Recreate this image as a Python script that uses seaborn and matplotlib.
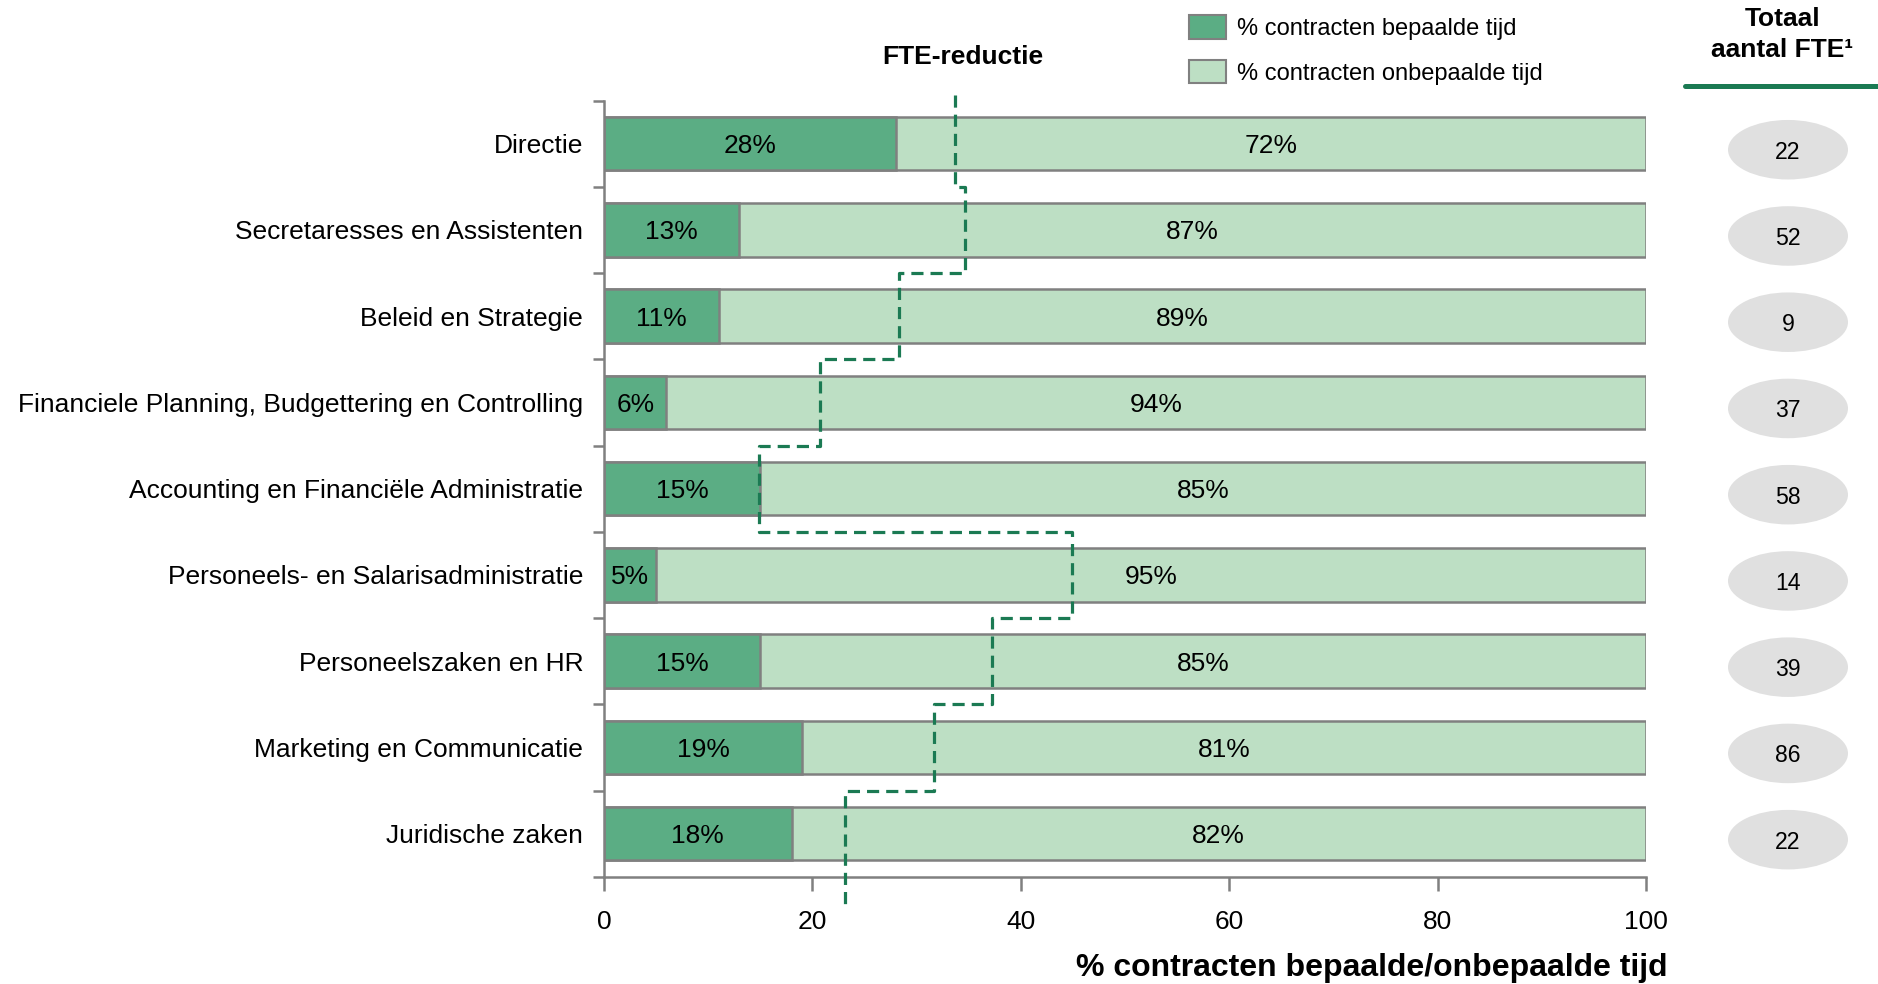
import numpy as np
import pandas as pd
import matplotlib
matplotlib.use("Agg")
import matplotlib.pyplot as plt
from matplotlib.patches import Ellipse, Patch
from matplotlib.lines import Line2D
import seaborn as sns

# === Data ===
categories = [
    "Directie",
    "Secretaresses en Assistenten",
    "Beleid en Strategie",
    "Financiele Planning, Budgettering en Controlling",
    "Accounting en Financiële Administratie",
    "Personeels- en Salarisadministratie",
    "Personeelszaken en HR",
    "Marketing en Communicatie",
    "Juridische zaken",
]
bepaalde = [28, 13, 11, 6, 15, 5, 15, 19, 18]
onbepaalde = [72, 87, 89, 94, 85, 95, 85, 81, 82]
fte_reductie = [33.7, 34.6, 28.3, 20.7, 14.9, 44.9, 37.2, 31.7, 23.1]
totaal_fte = [22, 52, 9, 37, 58, 14, 39, 86, 22]
x_ticks = [0, 20, 40, 60, 80, 100]

df = pd.DataFrame({"afdeling": categories, "bepaalde": bepaalde, "onbepaalde": onbepaalde})
df["totaal"] = df["bepaalde"] + df["onbepaalde"]

DARK = "#5BAD84"
LIGHT = "#BDDFC4"
EDGE = "#808080"
LINE = "#1B7A53"

sns.set_style("white")
plt.rcParams["font.family"] = ["Liberation Sans", "DejaVu Sans"]
plt.rcParams["text.color"] = "black"
plt.rcParams["xtick.labelcolor"] = "black"
plt.rcParams["ytick.labelcolor"] = "black"

fig = plt.figure(figsize=(18.78, 9.84), dpi=100)
ax = fig.add_axes([0.3216, 0.109, 0.5549, 0.7888])

# === Gestapelde balken ===
sns.barplot(data=df, x="totaal", y="afdeling", color=LIGHT, edgecolor=EDGE, linewidth=1.8,
            width=0.62, saturation=1, errorbar=None, ax=ax)
sns.barplot(data=df, x="bepaalde", y="afdeling", color=DARK, edgecolor=EDGE, linewidth=1.8,
            width=0.62, saturation=1, errorbar=None, ax=ax)

for i, (b, o) in enumerate(zip(bepaalde, onbepaalde)):
    ax.text(b / 2, i, f"{b}%", ha="center", va="center_baseline", fontsize=19)
    ax.text(b + o / 2, i, f"{o}%", ha="center", va="center_baseline", fontsize=19)

# === FTE-reductie trappenlijn ===
n = len(categories)
xs, ys = [], []
for i, v in enumerate(fte_reductie):
    top = i - 0.5 if i > 0 else -0.56
    bot = i + 0.5 if i < n - 1 else 8.85
    xs += [v, v]
    ys += [top, bot]
ax.plot(xs, ys, color=LINE, lw=2.3, ls=(0, (3.8, 2.2)), clip_on=False, zorder=5)
ax.text(fte_reductie[0] + 0.7, -1.01, "FTE-reductie", ha="center", va="center",
        fontsize=19, weight="bold")

# === Assen ===
ax.set_xlim(0, 100)
ax.set_ylim(n - 0.5, -0.5)
ax.set_xlabel("")
ax.set_ylabel("")
for s in ["top", "right"]:
    ax.spines[s].set_visible(False)
for s in ["left", "bottom"]:
    ax.spines[s].set_color(EDGE)
    ax.spines[s].set_linewidth(1.8)

ax.set_yticks(range(n))
ax.set_yticklabels(categories, fontsize=19)
ax.set_yticks(np.arange(-0.5, n, 1), minor=True)
ax.tick_params(axis="y", which="major", left=True, length=0, pad=15)
ax.tick_params(axis="y", which="minor", left=True, length=8, width=1.8, color=EDGE)
ax.set_xticks(x_ticks)
ax.tick_params(axis="x", bottom=True, length=10, width=1.8, color=EDGE, pad=14, labelsize=19)

fig.text(0.8877, 0.016, "% contracten bepaalde/onbepaalde tijd", ha="right", va="center",
         fontsize=23, weight="bold")

# === Legenda ===
handles = [
    Patch(facecolor=DARK, edgecolor=EDGE, linewidth=1.5, label="% contracten bepaalde tijd"),
    Patch(facecolor=LIGHT, edgecolor=EDGE, linewidth=1.5, label="% contracten onbepaalde tijd"),
]
fig.legend(handles=handles, loc="upper left", bbox_to_anchor=(0.6332, 0.985), frameon=False,
           fontsize=17, handlelength=1.57, handleheight=1.17, handletextpad=0.46,
           labelspacing=0.85, borderaxespad=0, borderpad=0)

# === Totaal aantal FTE ===
fig.text(0.949, 0.993, "Totaal\naantal FTE¹", ha="center", va="top", fontsize=19,
         weight="bold", linespacing=1.35)
fig.add_artist(Line2D([0.897, 1.0], [0.9123, 0.9123], color=LINE, lw=3.6))

ax2 = fig.add_axes([1728 / 1878, 0.109, 120 / 1878, 0.7888])
ax2.set_xlim(0, 1)
ax2.set_ylim(n - 0.5, -0.5)
ax2.axis("off")
for i, t in enumerate(totaal_fte):
    ax2.add_patch(Ellipse((0.5, i + 0.07), width=1, height=0.69, facecolor="#E0E0E0", edgecolor="none"))
    ax2.text(0.5, i + 0.07, str(t), ha="center", va="center_baseline", fontsize=16.6)

fig.savefig("out.png", dpi=100)
